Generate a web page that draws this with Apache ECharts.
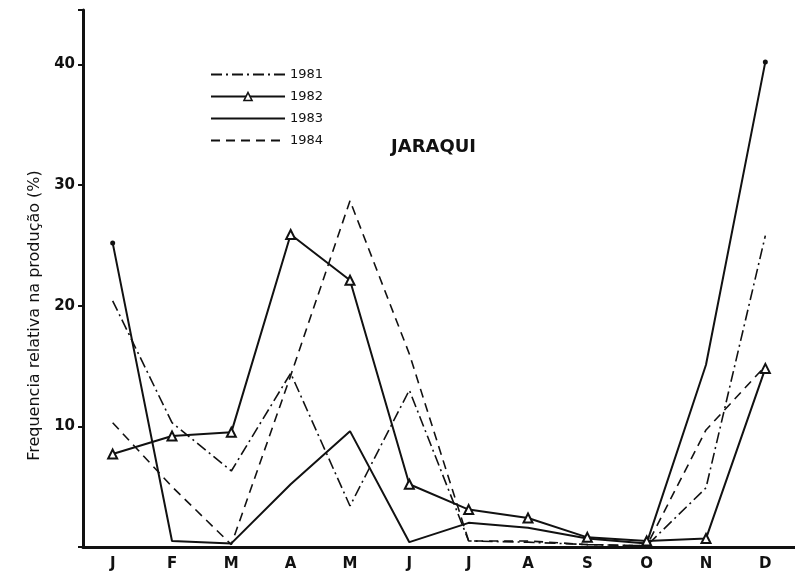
<!DOCTYPE html>
<html>
<head>
<meta charset="utf-8">
<script src="https://cdn.jsdelivr.net/npm/echarts@6/dist/echarts.min.js"></script>
<style>
  html, body { margin: 0; padding: 0; background: #fff; }
  #chart { width: 795px; height: 588px; }
</style>
</head>
<body>
<div id="chart"></div>
<script>
// Monthly relative share of the jaraqui catch (%), 1981-1984
const months = ['J', 'F', 'M', 'A', 'M', 'J', 'J', 'A', 'S', 'O', 'N', 'D'];
const y1981 = [20.4, 10.3, 6.3, 14.4, 3.4, 13.0, 0.5, 0.4, 0.2, 0.1, 4.9, 25.8];
const y1982 = [7.7, 9.2, 9.5, 25.9, 22.1, 5.2, 3.1, 2.4, 0.8, 0.5, 0.7, 14.8];
const y1983 = [25.2, 0.5, 0.3, 5.2, 9.6, 0.4, 2.0, 1.6, 0.7, 0.3, 15.1, 40.2];
const y1984 = [10.3, 5.0, 0.2, 14.2, 28.7, 16.0, 0.5, 0.5, 0.2, 0.1, 9.7, 15.0];
const yTicks = [10, 20, 30, 40];

const ink = '#111';
const font = 'DejaVu Sans';
// legend entries keep only their line sample; 1982 keeps its triangle
const noMark = { color: 'rgba(0,0,0,0)', borderColor: 'rgba(0,0,0,0)', borderWidth: 0 };

const chart = echarts.init(document.getElementById('chart'), null, { renderer: 'canvas' });

chart.setOption({
  animation: false,
  backgroundColor: '#fff',
  title: {
    text: 'JARAQUI',
    left: 386,
    top: 133,
    textStyle: { fontFamily: font, fontSize: 18, fontWeight: 'bold', color: ink }
  },
  legend: {
    orient: 'vertical',
    left: 205,
    top: 63,
    itemWidth: 74,
    itemHeight: 10,
    itemGap: 9,
    textStyle: { fontFamily: font, fontSize: 13, color: ink },
    data: [
      { name: '1981', itemStyle: noMark },
      { name: '1982', itemStyle: { color: '#fff', borderColor: ink, borderWidth: 1.6 } },
      { name: '1983', itemStyle: noMark },
      { name: '1984', itemStyle: noMark }
    ]
  },
  grid: { left: 83, width: 720, top: 10, bottom: 41 },
  xAxis: {
    type: 'category',
    data: months,
    boundaryGap: true,
    axisLine: { lineStyle: { color: ink, width: 3 } },
    axisTick: { alignWithLabel: true, length: 5, lineStyle: { color: ink, width: 2 } },
    axisLabel: { fontFamily: font, fontSize: 15, fontWeight: 'bold', color: ink, margin: 10 },
    splitLine: { show: false }
  },
  yAxis: {
    type: 'value',
    min: 0,
    max: 44.5,
    interval: 10,
    name: 'Frequencia relativa na produção (%)',
    nameLocation: 'middle',
    nameGap: 31,
    nameTextStyle: { fontFamily: font, fontSize: 16, color: ink, padding: [0, 74, 0, 0] },
    axisLine: { show: true, lineStyle: { color: ink, width: 3 } },
    axisTick: { show: true, length: 5, lineStyle: { color: ink, width: 2 } },
    axisLabel: {
      fontFamily: font, fontSize: 15, fontWeight: 'bold', color: ink, margin: 8,
      formatter: v => (yTicks.indexOf(v) >= 0 ? String(v) : '')
    },
    splitLine: { show: false }
  },
  series: [
    {
      name: '1981', type: 'line', data: y1981, symbol: 'none',
      lineStyle: { color: ink, width: 1.6, type: [11, 4, 2, 4] },
      itemStyle: { color: ink }
    },
    {
      name: '1982', type: 'line', data: y1982,
      symbol: 'triangle', symbolSize: 9, showAllSymbol: true,
      lineStyle: { color: ink, width: 2 },
      itemStyle: { color: '#fff', borderColor: ink, borderWidth: 2 }
    },
    {
      name: '1983', type: 'line', data: y1983,
      symbol: 'circle',
      symbolSize: (v, p) => (p.dataIndex === 0 || p.dataIndex === y1983.length - 1 ? 5 : 0),
      showAllSymbol: true,
      lineStyle: { color: ink, width: 2 },
      itemStyle: { color: ink }
    },
    {
      name: '1984', type: 'line', data: y1984, symbol: 'none',
      lineStyle: { color: ink, width: 1.6, type: [9, 6] },
      itemStyle: { color: ink }
    }
  ]
});
</script>
</body>
</html>
